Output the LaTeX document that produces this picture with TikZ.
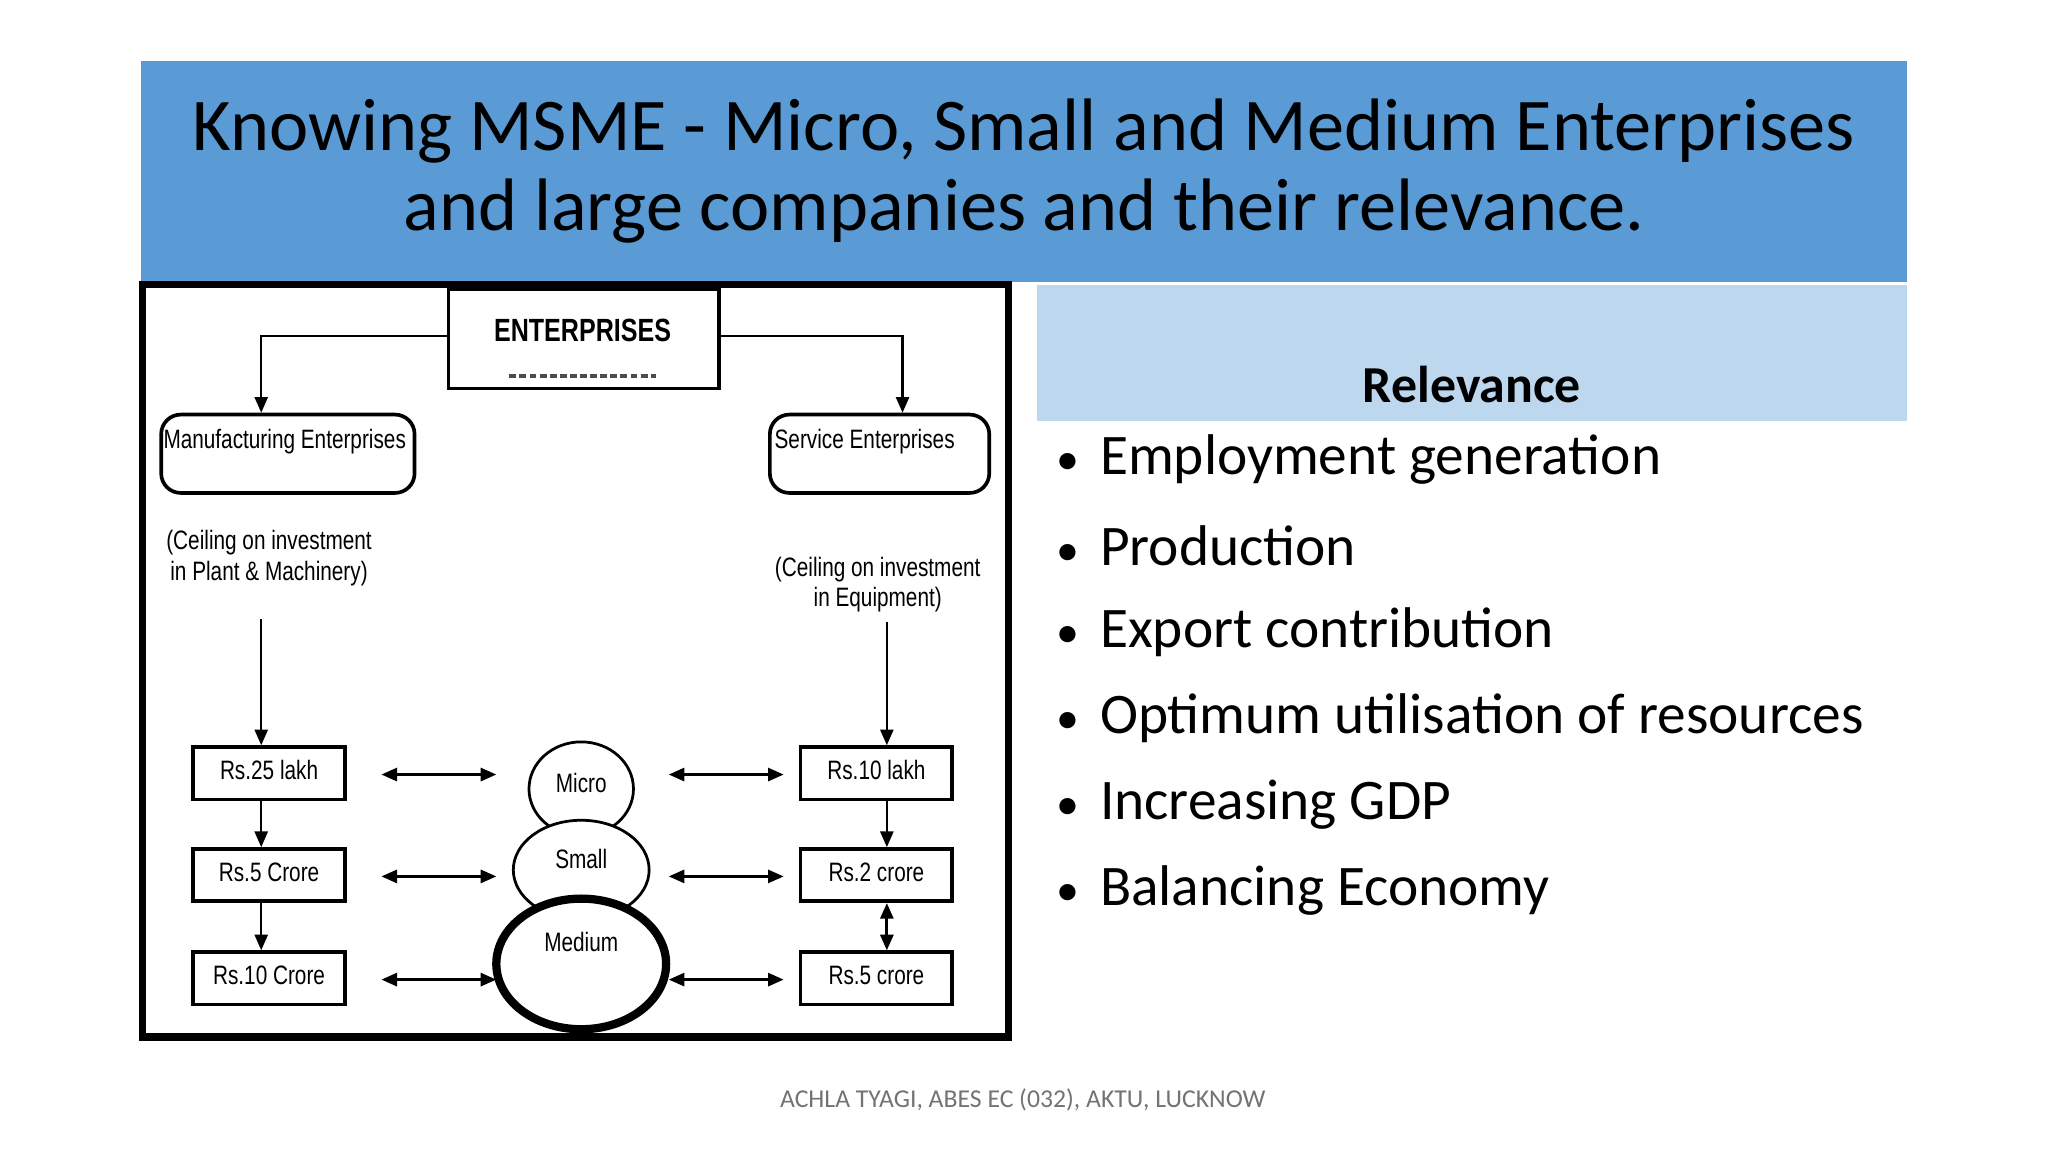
\documentclass[tikz,border=0pt]{standalone}
\usepackage{fontspec}
\setmainfont{Carlito}
\newfontfamily\diagfont{Liberation Sans}
\usetikzlibrary{arrows.meta}
\definecolor{band}{HTML}{5B9BD5}
\definecolor{lband}{HTML}{BDD7EE}
\newcommand\narrowtxt[1]{\scalebox{0.78}[1]{\begin{tabular}{@{}c@{}}#1\end{tabular}}}
\tikzset{
 dg/.style={font=\diagfont\fontsize{5.8}{6.6}\selectfont,inner sep=0pt},
 sq/.style={draw,line width=0.8pt,minimum width=11.6mm,minimum height=4mm,inner sep=0pt,dg},
 ln/.style={line width=0.5pt,-{Triangle[length=1.2mm,width=1mm]}},
 dbl/.style={line width=0.6pt,{Triangle[length=1.2mm,width=1mm]}-{Triangle[length=1.2mm,width=1mm]}},
 bul/.style={anchor=west,font=\fontsize{12.5}{15}\selectfont,inner sep=0pt}
}
\begin{document}
\begin{tikzpicture}[x=0.1mm,y=-0.1mm]
\useasboundingbox (0,0) rectangle (1568,882);
\fill[white] (0,0) rectangle (1568,882);
\fill[band] (108,47) rectangle (1460,216);
\node[align=center,font=\fontsize{16.2}{17.6}\selectfont] (title) at (784,131) {Knowing MSME - Micro, Small and Medium Enterprises\\and large companies and their relevance.};
\fill[lband] (794,218) rectangle (1460,322);
\node[font=\fontsize{11.3}{14}\bfseries\selectfont] (rel) at (1127,294) {Relevance};
\foreach \t [count=\i] in {Employment generation,Production,Export contribution,Optimum utilisation of resources,Increasing GDP,Balancing Economy}{
 \node[bul] (b\i) at (808,286+66*\i) {{\fontsize{10}{12}\selectfont\textbullet}\hspace{1.6mm}\t};
}
\node[font=\fontsize{5.6}{7}\selectfont,text=black!55] (foot) at (783,842) {ACHLA TYAGI, ABES EC (032), AKTU, LUCKNOW};
% diagram
\draw[line width=1.6pt] (109,218) rectangle (772,794);
\node[draw,line width=0.8pt,minimum width=20.7mm,minimum height=7.6mm,anchor=north west,inner sep=0pt] (ent) at (342,220) {};
\node[dg,font=\diagfont\bfseries\fontsize{7}{8}\selectfont] (entt) at (446,256) {\narrowtxt{ENTERPRISES}};
\draw[line width=1pt,dash pattern=on 1.5pt off 0.7pt,black!70] (390,288) -- (502,288);
\node[draw,rounded corners=1.5mm,line width=0.8pt,minimum width=19.4mm,minimum height=6mm,anchor=north west] (man) at (122,316) {};
\node[dg] at (218,339) {\narrowtxt{Manufacturing Enterprises}};
\node[draw,rounded corners=1.5mm,line width=0.8pt,minimum width=16.8mm,minimum height=6mm,anchor=north west] (ser) at (588,316) {};
\node[dg] at (662,339) {\narrowtxt{Service Enterprises}};
\draw[ln] (ent.west |- 0,257) -| (man.north -| 200,0);
\draw[ln] (ent.east |- 0,257) -| (ser.north -| 691,0);
\node[dg] (cl) at (206,428) {\narrowtxt{(Ceiling on investment\\in Plant \& Machinery)}};
\node[dg] (cr) at (672,448) {\narrowtxt{(Ceiling on investment\\in Equipment)}};
\node[sq] (l1) at (206,592) {\narrowtxt{Rs.25 lakh}};
\node[sq] (l2) at (206,670) {\narrowtxt{Rs.5 Crore}};
\node[sq] (l3) at (206,749) {\narrowtxt{Rs.10 Crore}};
\node[sq] (r1) at (671,592) {\narrowtxt{Rs.10 lakh}};
\node[sq] (r2) at (671,670) {\narrowtxt{Rs.2 crore}};
\node[sq] (r3) at (671,749) {\narrowtxt{Rs.5 crore}};
\coordinate (la) at (200,474); \coordinate (ra) at (679,476);
\draw[ln] (la) -- (la |- l1.north);
\draw[ln] (ra) -- (ra |- r1.north);
\draw[ln] (l1.south -| la) -- (l2.north -| la);
\draw[ln] (l2.south -| la) -- (l3.north -| la);
\draw[ln] (r1.south -| ra) -- (r2.north -| ra);
\draw[dbl] (r2.south -| ra) -- (r3.north -| ra);
\draw[line width=0.6pt] (445,604) ellipse [x radius=40,y radius=36];
\draw[line width=0.6pt,fill=white] (445,666) ellipse [x radius=52,y radius=38];
\draw[line width=1.8pt,fill=white] (445,738) ellipse [x radius=65,y radius=50];
\node[dg] (mi) at (445,602) {\narrowtxt{Micro}};
\node[dg] (sm) at (445,660) {\narrowtxt{Small}};
\node[dg] (me) at (445,724) {\narrowtxt{Medium}};
\foreach \y in {593,671,750}{
 \coordinate (p1) at (292,\y); \coordinate (p2) at (380,\y);
 \coordinate (p3) at (512,\y); \coordinate (p4) at (600,\y);
 \draw[dbl] (p1) -- (p2); \draw[dbl] (p3) -- (p4);
}
\end{tikzpicture}
\end{document}
